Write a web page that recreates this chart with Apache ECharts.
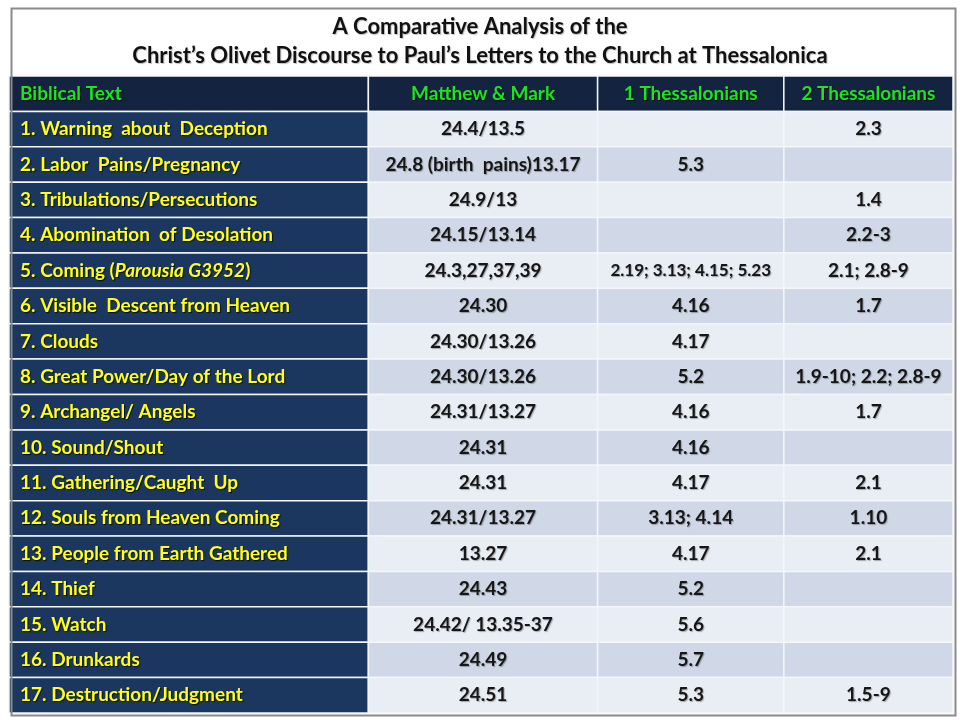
<!DOCTYPE html>
<html>
<head>
<meta charset="utf-8">
<script src="https://cdn.jsdelivr.net/npm/echarts@6/dist/echarts.min.js"></script>
<style>
  html, body { margin: 0; padding: 0; background: #fff; }
  #main { width: 960px; height: 720px; }
</style>
</head>
<body>
<div id="main"></div>
<script>
var titleLines = [
  'A Comparative Analysis of the',
  'Christ\u2019s Olivet Discourse to Paul\u2019s Letters to the Church at Thessalonica'
];
var columns = ['Biblical Text', 'Matthew & Mark', '1 Thessalonians', '2 Thessalonians'];
var topics = [
  '1. Warning  about  Deception',
  '2. Labor  Pains/Pregnancy',
  '3. Tribulations/Persecutions',
  '4. Abomination  of Desolation',
  '5. Coming ({i|Parousia G3952})',
  '6. Visible  Descent from Heaven',
  '7. Clouds',
  '8. Great Power/Day of the Lord',
  '9. Archangel/ Angels',
  '10. Sound/Shout',
  '11. Gathering/Caught  Up',
  '12. Souls from Heaven Coming',
  '13. People from Earth Gathered',
  '14. Thief',
  '15. Watch',
  '16. Drunkards',
  '17. Destruction/Judgment'
];
var matthewMark = ['24.4/13.5', '24.8 (birth  pains)13.17', '24.9/13', '24.15/13.14', '24.3,27,37,39',
  '24.30', '24.30/13.26', '24.30/13.26', '24.31/13.27', '24.31', '24.31', '24.31/13.27', '13.27',
  '24.43', '24.42/ 13.35-37', '24.49', '24.51'];
var thess1 = ['', '5.3', '', '', '2.19; 3.13; 4.15; 5.23', '4.16', '4.17', '5.2', '4.16', '4.16',
  '4.17', '3.13; 4.14', '4.17', '5.2', '5.6', '5.7', '5.3'];
var thess2 = ['2.3', '', '1.4', '2.2-3', '2.1; 2.8-9', '1.7', '', '1.9-10; 2.2; 2.8-9', '1.7', '',
  '2.1', '1.10', '2.1', '', '', '', '1.5-9'];

// layout
var colWidths = [359, 229, 186, 169];
var colStarts = [];
var acc = 0;
colWidths.forEach(function (w) { colStarts.push(acc); acc += w; });
var totalWidth = acc;

var FONT = 'Lato';
var BASE = 19;
var measureCtx = document.createElement('canvas').getContext('2d');
function fitSize(text, maxW) {
  var size = BASE;
  while (size > 10) {
    measureCtx.font = 'bold ' + size + 'px ' + FONT;
    if (measureCtx.measureText(text).width <= maxW) break;
    size--;
  }
  return size;
}

var rowKeys = ['header'].concat(topics);
var bodyCols = [matthewMark, thess1, thess2];

var cells = [];
for (var r = 0; r < rowKeys.length; r++) {
  for (var c = 0; c < columns.length; c++) {
    cells.push([c, r]);
  }
}

function cellText(c, r) {
  if (r === 0) return columns[c];
  if (c === 0) return topics[r - 1];
  return bodyCols[c - 1][r - 1];
}

function renderItem(params, api) {
  var c = api.value(0);
  var r = api.value(1);
  var x0 = colStarts[c];
  var x1 = x0 + colWidths[c];
  var p0 = api.coord([x0, r]);
  var p1 = api.coord([x1, r]);
  var h = api.size([0, 1])[1];
  var top = p0[1] - h / 2;
  var w = p1[0] - p0[0];

  var fill, color, shadow;
  if (r === 0) {
    fill = '#132340'; color = '#1EE41E'; shadow = 'rgba(0,0,0,0.6)';
  } else if (c === 0) {
    fill = '#1B375F'; color = '#FFFF1A'; shadow = 'rgba(0,0,0,0.8)';
  } else {
    fill = (r % 2 === 1) ? '#E9EDF4' : '#D0D8E8'; color = '#161616'; shadow = 'rgba(0,0,0,0.3)';
  }
  var text = cellText(c, r);
  var size = (c === 0 || r === 0) ? BASE : fitSize(text, w - 20);
  var left = (c === 0);

  return {
    type: 'group',
    children: [
      {
        type: 'rect',
        shape: { x: p0[0], y: top, width: w, height: h },
        style: { fill: fill, stroke: '#F4F6FA', lineWidth: 1.5 }
      },
      {
        type: 'text',
        style: {
          x: left ? p0[0] + 11 : p0[0] + w / 2,
          y: p0[1],
          text: text,
          align: left ? 'left' : 'center',
          verticalAlign: 'middle',
          fill: color,
          font: 'bold ' + size + 'px ' + FONT,
          textShadowColor: shadow,
          textShadowBlur: 1,
          textShadowOffsetX: 1,
          textShadowOffsetY: 1,
          rich: {
            i: { fontStyle: 'italic', fontWeight: 'bold', fontSize: size, fontFamily: FONT, fill: color,
              textShadowColor: shadow, textShadowBlur: 1, textShadowOffsetX: 1, textShadowOffsetY: 1 }
          }
        }
      }
    ]
  };
}

var titleStyle = {
  fontFamily: FONT,
  fontWeight: 'bold',
  fontSize: 22,
  color: '#111',
  textShadowColor: 'rgba(0,0,0,0.25)',
  textShadowBlur: 1,
  textShadowOffsetX: 1,
  textShadowOffsetY: 1
};

var chart = echarts.init(document.getElementById('main'));
chart.setOption({
  animation: false,
  backgroundColor: '#fff',
  title: titleLines.map(function (t, i) {
    return { text: t, left: 'center', top: 14 + i * 29, padding: 2, textStyle: titleStyle };
  }),
  graphic: [{
    type: 'rect',
    left: 9, top: 6,
    shape: { width: 944, height: 707 },
    style: { fill: 'none', stroke: '#8A8A8A', lineWidth: 2 },
    z: 10
  }],
  grid: { left: 9, right: 7, top: 76, bottom: 7 },
  xAxis: { type: 'value', min: 0, max: totalWidth, show: false },
  yAxis: { type: 'category', data: rowKeys, inverse: true, show: false },
  series: [{
    type: 'custom',
    renderItem: renderItem,
    data: cells,
    encode: { x: 0, y: 1 }
  }]
});
</script>
</body>
</html>
